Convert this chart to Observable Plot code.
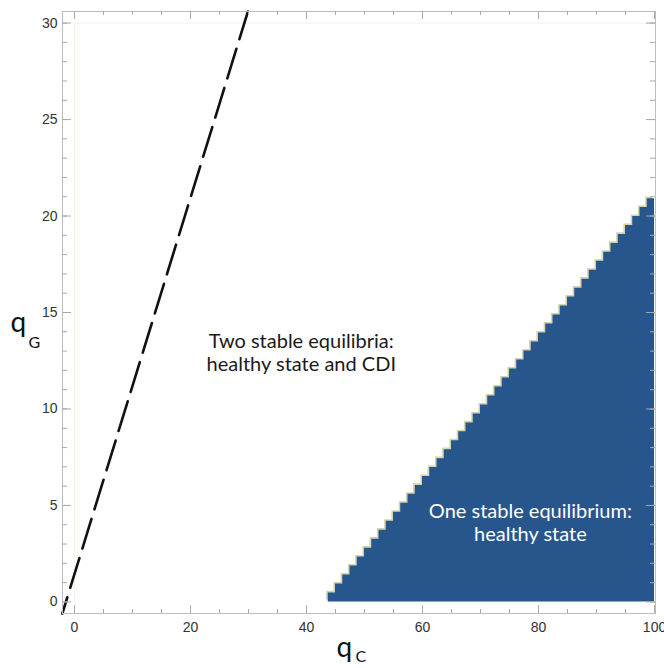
<!DOCTYPE html>
<html>
<head>
<meta charset="utf-8">
<script src="https://cdn.jsdelivr.net/npm/d3@7"></script>
<script src="https://cdn.jsdelivr.net/npm/@observablehq/plot@0.6"></script>
<style>
  body { margin: 0; background: #fff; }
  #chart svg { display: block; }
</style>
</head>
<body>
<div id="chart"></div>
<script>
// Equilibrium regions in the (q_C, q_G) parameter plane.

// axis ticks
const xTicks = [0, 20, 40, 60, 80, 100];
const yTicks = [0, 5, 10, 15, 20, 25, 30];
const xMinor = d3.range(0, 101, 5);
const yMinor = d3.range(0, 31, 1);

// sampled plotting range of the region plot
const rangeQC = [0, 100];
const rangeQG = [0, 30];

// edge of the single-equilibrium region: q_C where it begins at each q_G
const edgeQG = [0, 5, 10, 15, 20.9];
const edgeQC = [43.75, 57.2, 70.7, 84.1, 100];
const cellQC = 1.25; // sampling step of the region plot along q_C

// dashed threshold line
const guideQC = [-2.1, 29.9];
const guideQG = [-0.6, 30.6];

// region labels
const labelTwo = "Two stable equilibria:\nhealthy state and CDI";
const labelOne = "One stable equilibrium:\nhealthy state";

// staircase outline of the sampled region
const edgeAt = d3.scaleLinear().domain(edgeQC).range(edgeQG);
const nCells = Math.round((edgeQC[edgeQC.length - 1] - edgeQC[0]) / cellQC);
const steps = d3.range(nCells).map(i => {
  const x = edgeQC[0] + i * cellQC;
  return {x, top: edgeAt(x + cellQC)};
});
steps.push({x: edgeQC[edgeQC.length - 1], top: steps[steps.length - 1].top});

const W = 664, H = 668;
const mL = 62, mR = 9, mT = 11, mB = 55;
const innerW = W - mL - mR, innerH = H - mT - mB;
const tickGray = "#a9a9a9";

const chart = Plot.plot({
  width: W,
  height: H,
  marginLeft: mL,
  marginRight: mR,
  marginTop: mT,
  marginBottom: mB,
  x: {domain: [-2.07, 100.17]},
  y: {domain: [-0.6, 30.6]},
  style: {fontFamily: "'Liberation Sans', Arial, sans-serif", fontSize: "14px", color: "#333", background: "#fff"},
  marks: [
    // faint edges of the sampled range
    Plot.ruleX([rangeQC[0]], {y1: rangeQG[0], y2: rangeQG[1], stroke: "#f7f4e4", strokeWidth: 1.2}),
    Plot.ruleY([rangeQG[1]], {x1: rangeQC[0], x2: rangeQC[1], stroke: "#f7f4e4", strokeWidth: 1.2}),

    // single-equilibrium region, with its soft stair edge
    Plot.areaY(steps, {x: "x", y1: 0, y2: "top", curve: "step-after", fill: "#d6d2ab", dx: -1.6, dy: -1.6}),
    Plot.areaY(steps, {x: "x", y1: 0, y2: "top", curve: "step-after", fill: "#27568c"}),

    // dashed threshold
    Plot.line(guideQC.map((q, i) => ({qC: q, qG: guideQG[i]})), {
      x: "qC", y: "qG", stroke: "#111", strokeWidth: 2.6,
      strokeDasharray: "31,10", strokeDashoffset: 14
    }),

    // frame with inward ticks on all sides
    Plot.frame({stroke: "#bdbdbd"}),
    Plot.tickX(xTicks, {x: d => d, insetTop: innerH - 8, stroke: tickGray}),
    Plot.tickX(xMinor, {x: d => d, insetTop: innerH - 4, stroke: tickGray}),
    Plot.tickX(xTicks, {x: d => d, insetBottom: innerH - 8, stroke: tickGray}),
    Plot.tickX(xMinor, {x: d => d, insetBottom: innerH - 4, stroke: tickGray}),
    Plot.tickY(yTicks, {y: d => d, insetRight: innerW - 9, stroke: tickGray}),
    Plot.tickY(yMinor, {y: d => d, insetRight: innerW - 5, stroke: tickGray}),
    Plot.tickY(yTicks, {y: d => d, insetLeft: innerW - 9, stroke: tickGray}),
    Plot.tickY(yMinor, {y: d => d, insetLeft: innerW - 5, stroke: tickGray}),

    // tick labels
    Plot.axisX(xTicks, {anchor: "bottom", tickSize: 0, tickPadding: 9, label: null, fill: "#333"}),
    Plot.axisY(yTicks, {anchor: "left", tickSize: 0, tickPadding: 5, label: null, fill: "#333"}),

    // axis titles q_C and q_G
    Plot.text(["q"], {frameAnchor: "bottom-left", dx: 274, dy: 43, lineAnchor: "bottom", textAnchor: "start",
      fontFamily: "Lato", fontSize: 28, fill: "#111"}),
    Plot.text(["C"], {frameAnchor: "bottom-left", dx: 293, dy: 48, lineAnchor: "bottom", textAnchor: "start",
      fontFamily: "Lato", fontSize: 16, fill: "#111"}),
    Plot.text(["q"], {frameAnchor: "top-left", dx: -52, dy: 320, lineAnchor: "bottom", textAnchor: "start",
      fontFamily: "Lato", fontSize: 28, fill: "#111"}),
    Plot.text(["G"], {frameAnchor: "top-left", dx: -34, dy: 336, lineAnchor: "bottom", textAnchor: "start",
      fontFamily: "Lato", fontSize: 16, fill: "#111"}),

    // region labels
    Plot.text([labelTwo], {x: 39.1, y: 12.93, fontFamily: "Lato", fontSize: 20, lineHeight: 1.15, fill: "#1a1a1a"}),
    Plot.text([labelOne], {x: 78.6, y: 4.12, fontFamily: "Lato", fontSize: 20, lineHeight: 1.15, fill: "#fff"})
  ]
});

document.getElementById("chart").appendChild(chart);
</script>
</body>
</html>
